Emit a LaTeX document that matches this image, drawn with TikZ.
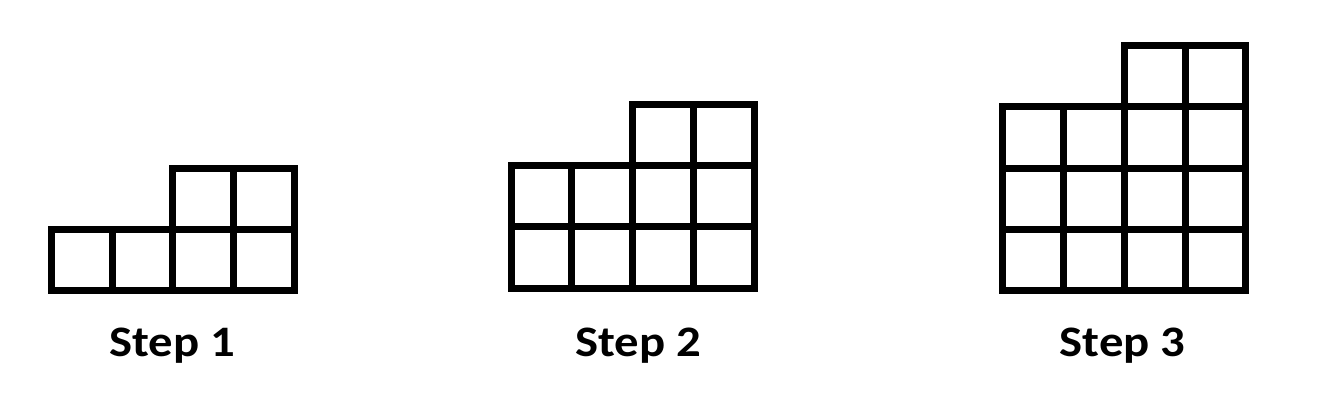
\documentclass[tikz,border=0pt]{standalone}
\usepackage{fontspec}
\setmainfont{Carlito}[FakeStretch=1.12]
\usepackage{tikz}
\usetikzlibrary{positioning}

\begin{document}
\begin{tikzpicture}[x=1pt, y=1pt,
    cell/.style={draw, rectangle, line width=7pt, inner sep=0pt,
        minimum width=60.75pt, minimum height=61.3pt},
    steplabel/.style={anchor=base, font=\bfseries\fontsize{43.5}{50}\selectfont}]
        \useasboundingbox (0,0) rectangle (1319,403);
        % Staircase of squares, two more per step
        \foreach \s/\ox/\oy/\lx in {1/51.3/112.2/172.3, 2/511.2/114.7/638.3, 3/1002.8/112.2/1122.5} {
            \foreach \c in {0,...,3} {
                \pgfmathtruncatemacro\toprow{\c<2 ? \s-1 : \s}
                \foreach \r in {0,...,\toprow}
                    \node[cell] (s\s-\c-\r) at (\ox+\c*60.75+30.375, \oy+\r*61.3+30.65) {};
            }
            \node[steplabel] (label\s) at (\lx,46) {Step \s};
        }
    \end{tikzpicture}
\end{document}
